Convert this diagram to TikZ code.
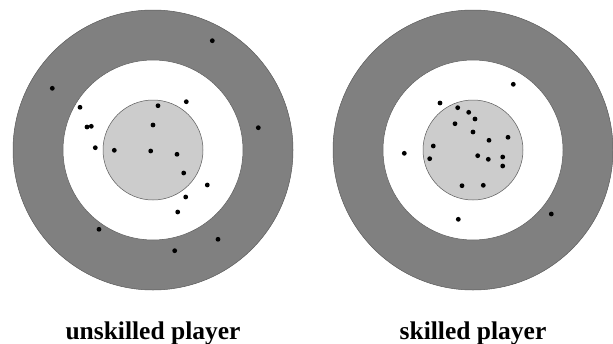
\documentclass[tikz,border=0pt]{standalone}
\usepackage{fontspec}
\setmainfont{Liberation Serif}
\definecolor{ringdark}{RGB}{128,128,128}
\definecolor{bulllight}{RGB}{204,204,204}
\definecolor{rimline}{RGB}{90,90,90}
\tikzset{
  outerring/.style={fill=ringdark, draw=rimline, line width=0.5pt},
  middlering/.style={fill=white, draw=rimline, line width=0.5pt},
  bullseye/.style={fill=bulllight, draw=rimline, line width=0.5pt},
  hit/.style={fill=black},
  caption/.style={anchor=base, font=\fontsize{25.5}{30}\selectfont\bfseries, inner sep=0pt}
}
\newcommand{\targetat}[2]{%
  \filldraw[outerring] (#1,#2) circle (140);
  \filldraw[middlering] (#1,#2) circle (90);
  \filldraw[bullseye] (#1,#2) circle (50);
}
\begin{document}
\begin{tikzpicture}[x=1pt,y=-1pt]
\useasboundingbox (0,0) rectangle (613,343);

% left target with scattered hits
\targetat{153}{150}
\foreach \px/\py in {212.3/40.7, 52.3/88.3, 80/107.3, 158/105.7, 186.3/101.7,
  153/125, 87/127, 91.3/126.3, 258.3/127.7, 95.3/147.7, 114.3/150.3,
  150.7/151, 177/154.3, 183.7/173, 207.3/185, 185.7/197, 177.7/212,
  99/229.3, 218/239.3, 174.7/250.7}
  \fill[hit] (\px,\py) circle (2.4);

% right target with grouped hits
\targetat{473}{150}
\foreach \px/\py in {513.3/84.3, 440/103, 457.7/107.7, 468.7/112.3, 475/119,
  455/123.7, 473/132, 489/140.3, 508/137.3, 433.3/146, 404.3/153.3,
  429.7/158.7, 477.7/155.7, 488.3/159.3, 502.7/157, 502.7/166,
  462/185.7, 483.3/185.3, 458.3/219.3, 551.3/214}
  \fill[hit] (\px,\py) circle (2.4);

\node[caption] (lbl1) at (153,339) {unskilled player};
\node[caption] (lbl2) at (473,339) {skilled player};
\end{tikzpicture}
\end{document}
